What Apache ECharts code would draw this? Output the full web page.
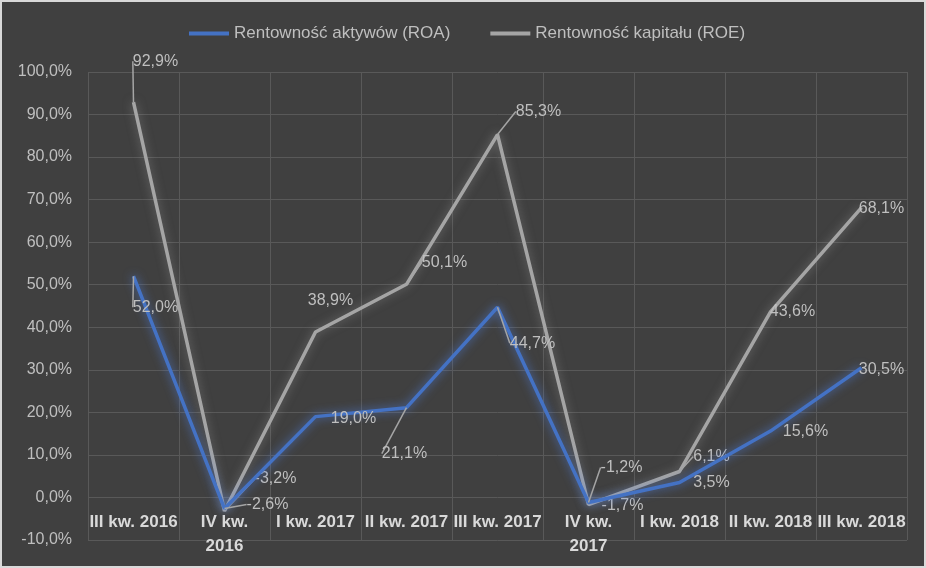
<!DOCTYPE html>
<html>
<head>
<meta charset="utf-8">
<script src="https://cdn.jsdelivr.net/npm/echarts@6/dist/echarts.min.js"></script>
<style>
html,body{margin:0;padding:0;background:#d9d9d9;}
#c{width:926px;height:568px;box-sizing:border-box;border:2px solid #d9d9d9;}
</style>
</head>
<body>
<div id="c"></div>
<script>
const categories = ['III kw. 2016','IV kw. 2016','I kw. 2017','II kw. 2017','III kw. 2017','IV kw. 2017','I kw. 2018','II kw. 2018','III kw. 2018'];
const roa = [52.0, -2.6, 19.0, 21.1, 44.7, -1.2, 3.5, 15.6, 30.5];
const roe = [92.9, -3.2, 38.9, 50.1, 85.3, -1.7, 6.1, 43.6, 68.1];
const seriesNames = ['Rentowność aktywów (ROA)', 'Rentowność kapitału (ROE)'];
const yMin = -10, yMax = 100, yStep = 10;

// label placement (pixel offsets from the point), layout only
const labelOffsets = [
  [[22,31],[43,-4],[38,2],[-2,46],[35,36],[33,-35],[32,0],[35,1],[20,2]],
  [[22,-41],[51,-32],[15,-31],[38,-22],[41,-23],[34,1],[32,-15],[22,0],[20,1]]
];
const leaderShown = [
  [true,true,false,true,true,true,false,false,false],
  [true,true,false,true,true,false,true,false,false]
];
const colors = ['#4472c4', '#a5a5a5'];
const glow = ['rgba(80,130,230,0.8)', 'rgba(170,170,170,0.5)'];

const fmt = v => v.toFixed(1).replace('.', ',') + '%';
const txt = '#bfbfbf';
const font = 'Liberation Sans';

const gridTop = 70, gridBottom = 26, chartH = 564;
const plotH = chartH - gridTop - gridBottom;
// move category axis up to the zero line (Excel crosses at 0)
const xAxisOffset = -plotH * (0 - yMin) / (yMax - yMin);

function mkData(arr, si){
  return arr.map((v,i)=>({value:v, labelLine:{show:leaderShown[si][i]}}));
}

const chart = echarts.init(document.getElementById('c'));
chart.setOption({
  backgroundColor:'#404040',
  animation:false,
  legend:{
    top:18, left:182,
    itemWidth:40, itemHeight:4, itemGap:40,
    icon:'rect',
    textStyle:{color:txt, fontSize:17, fontFamily:font},
    data:seriesNames.map((n,i)=>({name:n, itemStyle:{color:colors[i]}}))
  },
  grid:{left:86, right:17, top:gridTop, bottom:gridBottom, outerBoundsMode:'none', containLabel:false},
  xAxis:{
    type:'category', data:categories, boundaryGap:true,
    offset: xAxisOffset,
    axisLine:{show:false, onZero:false},
    axisTick:{show:false},
    splitLine:{show:true, lineStyle:{color:'#595959', width:1}},
    axisLabel:{
      color:'#d9d9d9', fontWeight:'bold', fontSize:17, fontFamily:font, margin:13,
      interval:0, lineHeight:24,
      formatter: v => v.startsWith('IV') ? v.replace(' 20', '\n20') : v
    }
  },
  yAxis:{
    type:'value', min:yMin, max:yMax, interval:yStep,
    axisLine:{show:false}, axisTick:{show:false},
    splitLine:{lineStyle:{color:'#595959', width:1}},
    axisLabel:{color:txt, fontSize:16, fontFamily:font, margin:16, formatter: v => fmt(v)}
  },
  series:[roa, roe].map((arr, si)=>({
    name:seriesNames[si],
    type:'line',
    data:mkData(arr, si),
    symbol:'circle', symbolSize:0,
    showSymbol:true,
    itemStyle:{color: colors[si]},
    lineStyle:{
      width:3.5,
      color: colors[si],
      shadowBlur:10,
      shadowColor: glow[si]
    },
    z: si===0 ? 3 : 2,
    label:{
      show:true, color:txt, fontSize:16, fontFamily:font,
      formatter: p => fmt(p.value)
    },
    labelLine:{show:true, lineStyle:{color:'#a5a5a5', width:1.5}, length2:0},
    labelLayout: function(p){
      const o = labelOffsets[si][p.dataIndex];
      const cx = p.rect.x + p.rect.width/2, cy = p.rect.y + p.rect.height/2;
      return {x: cx + o[0], y: cy + o[1], align:'center', verticalAlign:'middle'};
    }
  }))
});
</script>
</body>
</html>
